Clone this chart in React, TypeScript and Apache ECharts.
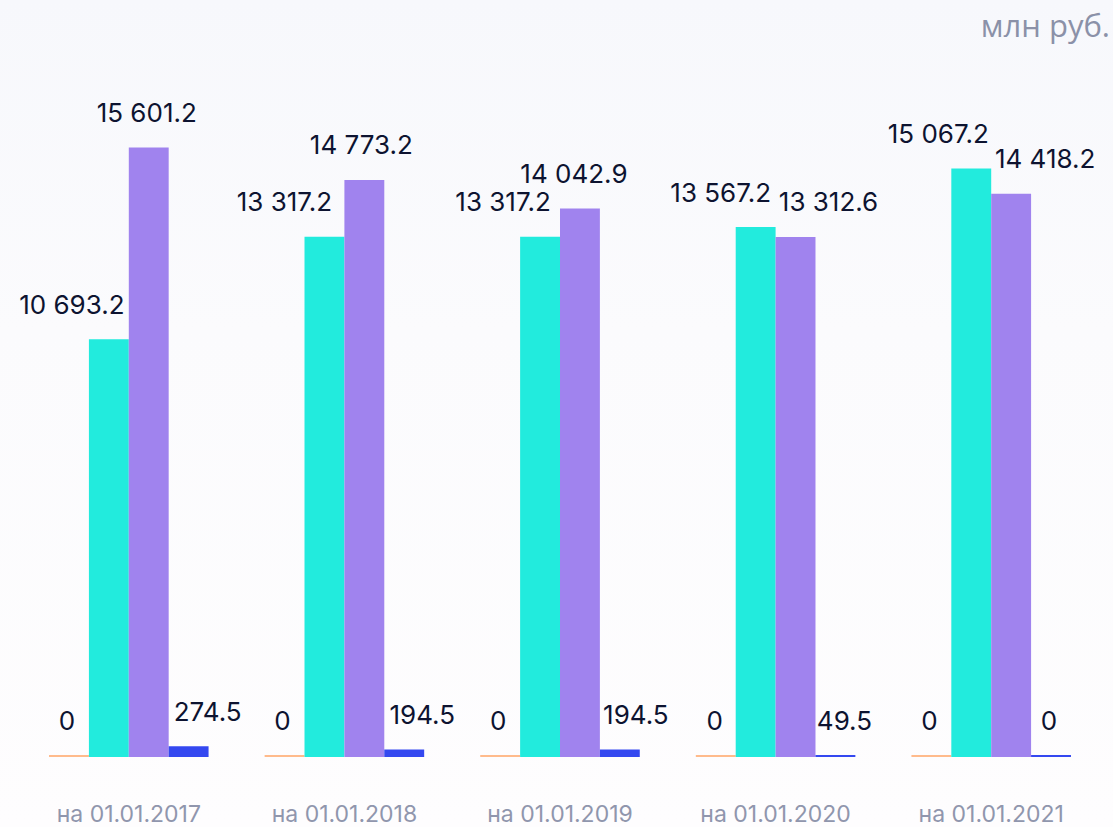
import React, { useEffect, useRef } from "react";
import * as echarts from "echarts";

const categories = ["на 01.01.2017", "на 01.01.2018", "на 01.01.2019", "на 01.01.2020", "на 01.01.2021"];
const seriesOrange = [0, 0, 0, 0, 0];
const seriesCyan = [10693.2, 13317.2, 13317.2, 13567.2, 15067.2];
const seriesPurple = [15601.2, 14773.2, 14042.9, 13312.6, 14418.2];
const seriesBlue = [274.5, 194.5, 194.5, 49.5, 0];
const unitLabel = "млн руб.";

// label horizontal shifts (styling only)
const shiftOrange = [-2, -2, -2, -1, -2];
const shiftCyan = [-37, -40, -37, -35, -33];
const shiftPurple = [-2, -3, -6, 33, 34];
const shiftBlue = [19, 18, 16, 9, -2];

const fmt = (v: number) => {
  const [i, d] = v.toFixed(1).split(".");
  const s = i.replace(/\B(?=(\d{3})+(?!\d))/g, " ");
  return v === 0 ? "0" : s + "." + d;
};

export default function App() {
  const ref = useRef<HTMLDivElement>(null);
  useEffect(() => {
    document.body.style.margin = "0";
    const chart = echarts.init(ref.current!, null, { renderer: "svg" });
    const mk = (name: string, values: number[], color: string, shifts: number[]) => ({
      name,
      type: "bar",
      barGap: "0%",
      barCategoryGap: "26%",
      barMinHeight: 2,
      itemStyle: { color },
      data: values.map((v, i) => ({
        value: v,
        label: { offset: [shifts[i], 0] },
      })),
      label: {
        show: true,
        position: "top",
        distance: 22,
        color: "#0d1330",
        fontSize: 26,
        fontFamily: "Inter",
        formatter: (p: any) => fmt(p.value),
      },
    });
    chart.setOption({
      animation: false,
      backgroundColor: "transparent",
      graphic: [
        {
          type: "text",
          right: 3,
          top: 9,
          style: { text: unitLabel, fill: "#8b91a8", fontSize: 31, fontFamily: "Open Sans" },
        },
      ],
      grid: { left: 21, right: 14, top: 132, bottom: 70 },
      xAxis: {
        type: "category",
        data: categories,
        axisLine: { show: false },
        axisTick: { show: false },
        axisLabel: { color: "#9096ad", fontSize: 23, fontFamily: "Inter", margin: 45, lineHeight: 23 },
      },
      yAxis: { type: "value", min: 0, max: 16000, show: false, splitLine: { show: false } },
      series: [
        mk("o", seriesOrange, "#ffbb8c", shiftOrange),
        mk("c", seriesCyan, "#22ebdd", shiftCyan),
        mk("p", seriesPurple, "#a083ee", shiftPurple),
        mk("b", seriesBlue, "#3448f0", shiftBlue),
      ],
    });
    return () => chart.dispose();
  }, []);
  return (
    <div
      style={{
        width: 1113,
        height: 827,
        background: "linear-gradient(to bottom, #f7f8fc 0%, #fbfbfd 40%, #fefdfe 100%)",
      }}
    >
      <div ref={ref} style={{ width: 1113, height: 827 }} />
    </div>
  );
}
